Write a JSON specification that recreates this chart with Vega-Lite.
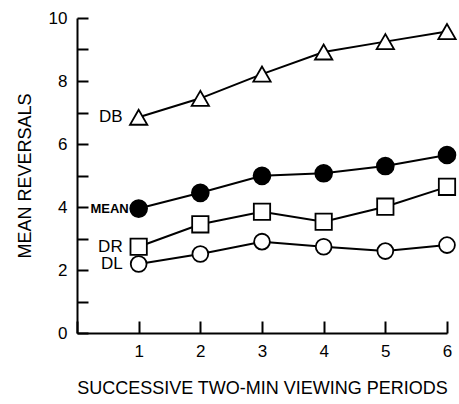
{
  "$schema": "https://vega.github.io/schema/vega-lite/v6.json",
  "width": 370,
  "height": 315,
  "autosize": "none",
  "padding": {"left": 77, "top": 18, "right": 12, "bottom": 71},
  "config": {
    "view": {"stroke": "transparent"}
  },
  "data": {
    "values": [
      {"period": 1, "series": "DB", "value": 6.85},
      {"period": 2, "series": "DB", "value": 7.45},
      {"period": 3, "series": "DB", "value": 8.22},
      {"period": 4, "series": "DB", "value": 8.92},
      {"period": 5, "series": "DB", "value": 9.25},
      {"period": 6, "series": "DB", "value": 9.57},
      {"period": 1, "series": "MEAN", "value": 3.95},
      {"period": 2, "series": "MEAN", "value": 4.45},
      {"period": 3, "series": "MEAN", "value": 4.99},
      {"period": 4, "series": "MEAN", "value": 5.07},
      {"period": 5, "series": "MEAN", "value": 5.3},
      {"period": 6, "series": "MEAN", "value": 5.65},
      {"period": 1, "series": "DR", "value": 2.74},
      {"period": 2, "series": "DR", "value": 3.45},
      {"period": 3, "series": "DR", "value": 3.85},
      {"period": 4, "series": "DR", "value": 3.53},
      {"period": 5, "series": "DR", "value": 4.01},
      {"period": 6, "series": "DR", "value": 4.64},
      {"period": 1, "series": "DL", "value": 2.19},
      {"period": 2, "series": "DL", "value": 2.51},
      {"period": 3, "series": "DL", "value": 2.9},
      {"period": 4, "series": "DL", "value": 2.74},
      {"period": 5, "series": "DL", "value": 2.6},
      {"period": 6, "series": "DL", "value": 2.79}
    ]
  },
  "encoding": {
    "x": {
      "field": "period", "type": "quantitative",
      "scale": {"domain": [0, 6], "nice": false, "zero": false},
      "axis": {"zindex": 1, "tickCount": 6, "labelExpr": "datum.value == 0 ? '' : datum.label", "gridOpacity": 0, "domainColor": "black", "domainWidth": 2, "tickColor": "#000000", "tickOpacity": 1, "tickWidth": 2, "tickSize": -12, "labelPadding": 22, "labelFont": "Liberation Sans", "labelFontSize": 17, "labelColor": "black", "labelFlush": false, "title": "SUCCESSIVE TWO-MIN VIEWING PERIODS", "titleFont": "Liberation Sans", "titleFontSize": 18, "titleFontWeight": "normal", "titleColor": "black", "titlePadding": 20}
    },
    "y": {
      "field": "value", "type": "quantitative",
      "scale": {"domain": [0, 10], "nice": false},
      "axis": {"zindex": 1, "tickCount": 10, "labelExpr": "datum.value % 2 == 0 ? datum.label : ''", "gridOpacity": 0, "domainColor": "black", "domainWidth": 2, "tickColor": "#000000", "tickOpacity": 1, "tickWidth": 2, "tickSize": -11, "labelPadding": 21, "labelFont": "Liberation Sans", "labelFontSize": 17, "labelColor": "black", "labelFlush": false, "title": "MEAN REVERSALS", "titleFont": "Liberation Sans", "titleFontSize": 18, "titleFontWeight": "normal", "titleColor": "black", "titlePadding": 14}
    }
  },
  "layer": [
    {
      "mark": {"type": "line", "color": "black", "strokeWidth": 2},
      "encoding": {"detail": {"field": "series"}}
    },
    {
      "mark": {"type": "point", "filled": true, "stroke": "black", "strokeWidth": 1.8, "opacity": 1},
      "encoding": {
        "shape": {"field": "series", "scale": {"domain": ["DB", "MEAN", "DR", "DL"], "range": ["triangle-up", "circle", "square", "circle"]}, "legend": null},
        "fill": {"field": "series", "scale": {"domain": ["DB", "MEAN", "DR", "DL"], "range": ["white", "black", "white", "white"]}, "legend": null},
        "size": {"field": "series", "type": "nominal", "scale": {"domain": ["DB", "MEAN", "DR", "DL"], "range": [300, 250, 220, 220]}, "legend": null}
      }
    },
    {
      "transform": [{"filter": "datum.period == 1 && datum.series != 'MEAN'"}],
      "mark": {"type": "text", "align": "right", "baseline": "middle", "dx": -16, "font": "Liberation Sans", "fontSize": 17, "color": "black"},
      "encoding": {"text": {"field": "series"}}
    },
    {
      "transform": [{"filter": "datum.period == 1 && datum.series == 'MEAN'"}],
      "mark": {"type": "text", "align": "right", "baseline": "middle", "dx": -10, "font": "Liberation Sans", "fontSize": 13, "fontWeight": "bold", "color": "black"},
      "encoding": {"text": {"field": "series"}}
    }
  ]
}
